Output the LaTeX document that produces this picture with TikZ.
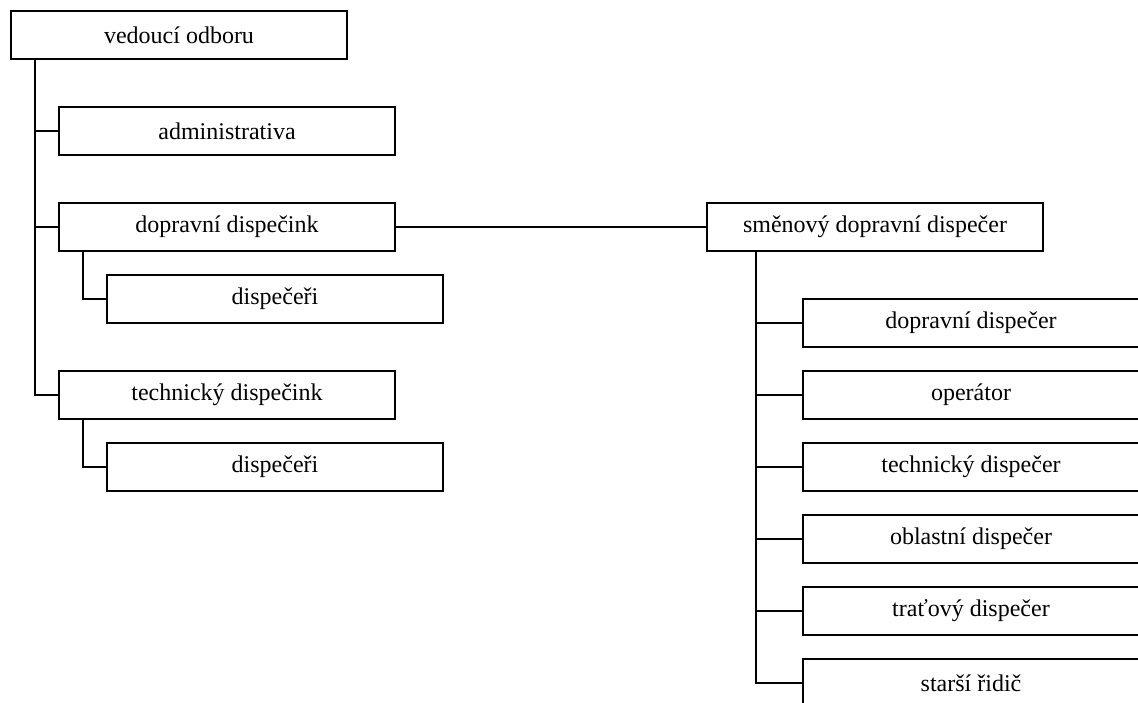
\documentclass[tikz,border=0pt]{standalone}
\usepackage{fontspec}
\setmainfont{Liberation Serif}
\begin{document}
\begin{tikzpicture}[x=1pt,y=-1pt,
  box/.style={draw, line width=1.6pt, minimum width=336pt, minimum height=48pt,
    inner sep=0pt, outer sep=0pt, font=\fontsize{24}{28}\selectfont},
  link/.style={line width=1.6pt}]
\useasboundingbox (0,0) rectangle (1138,702);
\node[box] (top) at (179,35) {vedoucí odboru};
\node[box] (admin) at (227,131) {administrativa};
\node[box] (dd) at (227,227) {dopravní dispečink};
\node[box] (dispa) at (275,299) {dispečeři};
\node[box] (td) at (227,395) {technický dispečink};
\node[box] (dispb) at (275,467) {dispečeři};
\node[box] (sm) at (875,227) {směnový dopravní dispečer};
\node[box] (c1) at (971,323) {dopravní dispečer};
\node[box] (c2) at (971,395) {operátor};
\node[box] (c3) at (971,467) {technický dispečer};
\node[box] (c4) at (971,539) {oblastní dispečer};
\node[box] (c5) at (971,611) {traťový dispečer};
\node[box] (c6) at (971,683) {starší řidič};
\draw[link] ([xshift=24pt]top.south west) |- (admin.west);
\draw[link] ([xshift=24pt]top.south west) |- (dd.west);
\draw[link] ([xshift=24pt]top.south west) |- (td.west);
\draw[link] ([xshift=24pt]dd.south west) |- (dispa.west);
\draw[link] ([xshift=24pt]td.south west) |- (dispb.west);
\draw[link] (dd.east) -- (sm.west);
\foreach \c in {c1,c2,c3,c4,c5,c6}
  \draw[link] ([xshift=49pt]sm.south west) |- (\c.west);
\end{tikzpicture}
\end{document}
